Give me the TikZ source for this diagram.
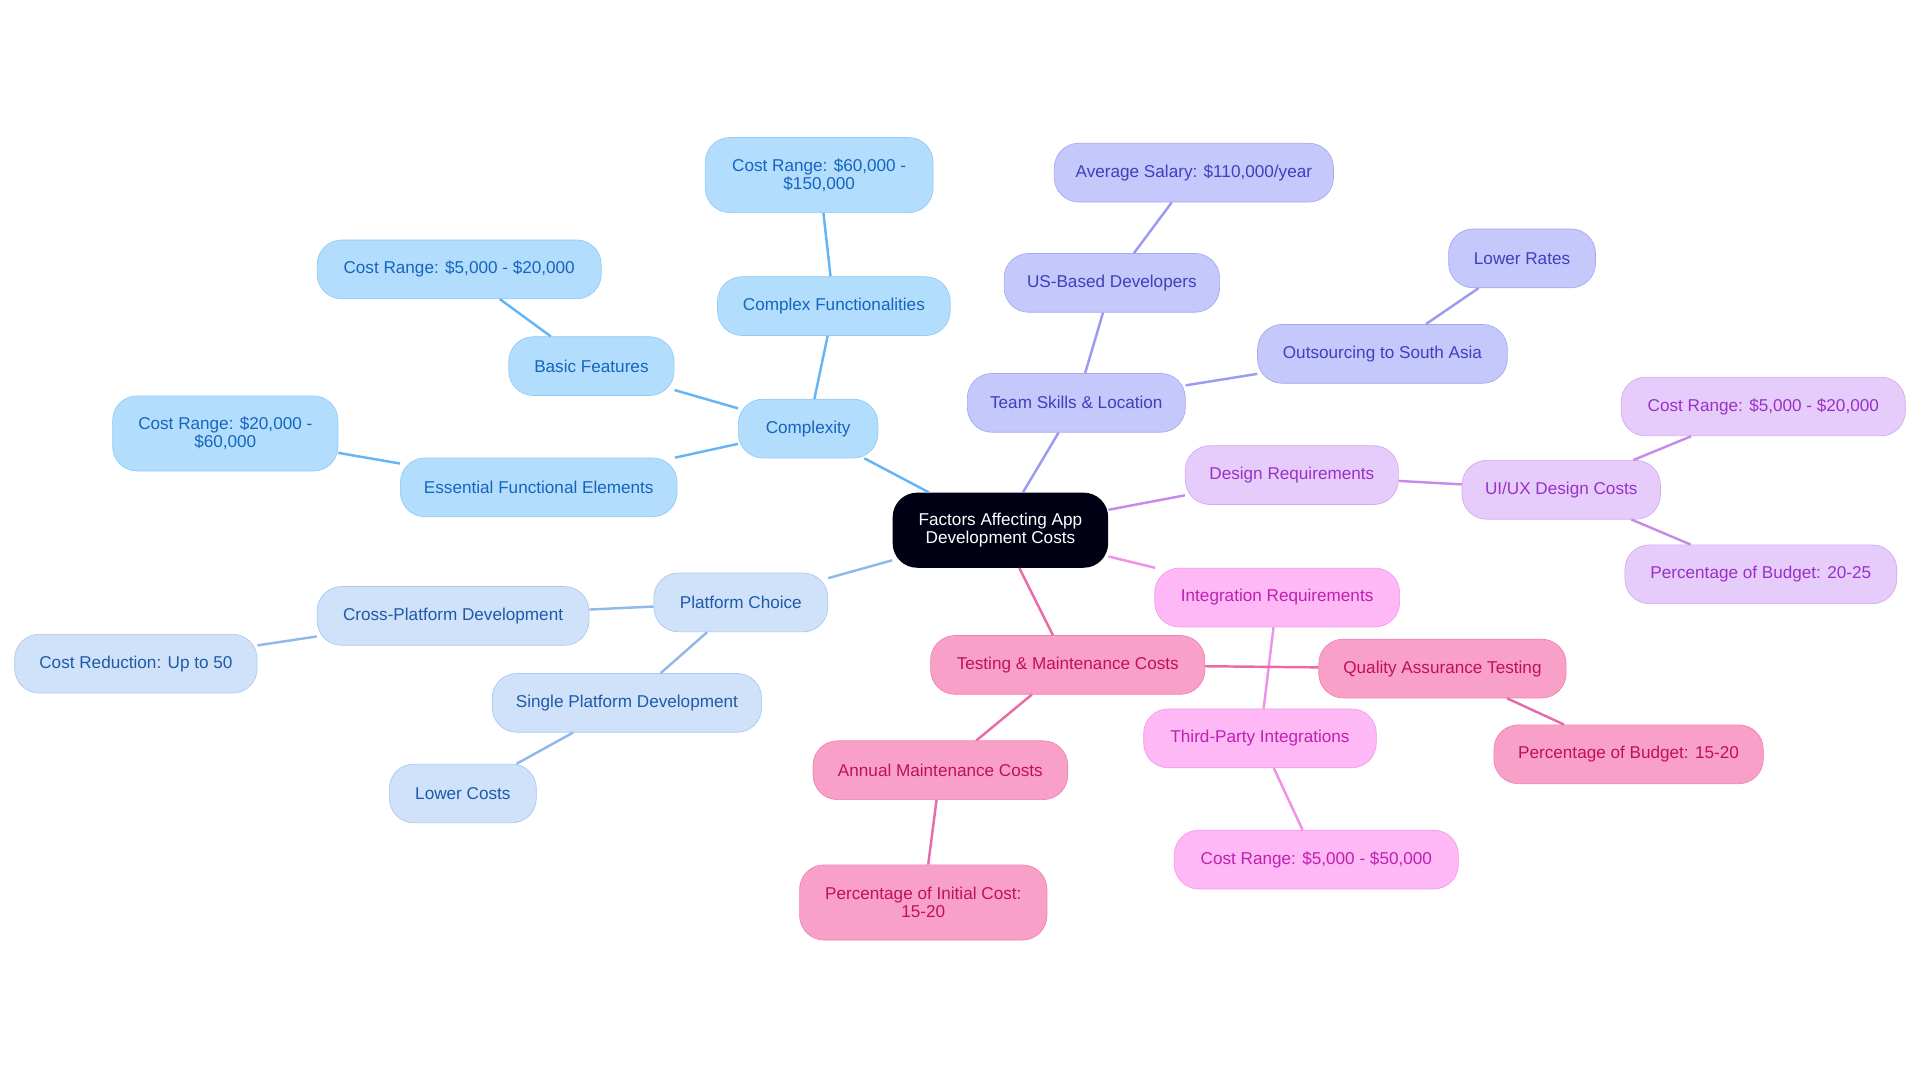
\documentclass[tikz,border=0pt]{standalone}
\usepackage{fontspec}
\setmainfont{Liberation Sans}
\begin{document}
\begin{tikzpicture}[x=0.75pt,y=-0.75pt]
\definecolor{bF}{HTML}{B3DDFC}\definecolor{bD}{HTML}{90CAF9}\definecolor{bT}{HTML}{1565C0}\definecolor{bL}{HTML}{64B5F6}
\definecolor{cF}{HTML}{CFE2FA}\definecolor{cD}{HTML}{A8C8F0}\definecolor{cT}{HTML}{1E5AA8}\definecolor{cL}{HTML}{90B8E8}
\definecolor{pF}{HTML}{C5C8FA}\definecolor{pD}{HTML}{A5A8F0}\definecolor{pT}{HTML}{3F3FBF}\definecolor{pL}{HTML}{9A9AF0}
\definecolor{lF}{HTML}{E6CCFA}\definecolor{lD}{HTML}{D4A8F0}\definecolor{lT}{HTML}{9B30C8}\definecolor{lL}{HTML}{C88AE8}
\definecolor{iF}{HTML}{FDB8F5}\definecolor{iD}{HTML}{F59AEC}\definecolor{iT}{HTML}{C020B0}\definecolor{iL}{HTML}{F090E8}
\definecolor{tF}{HTML}{F9A0C8}\definecolor{tD}{HTML}{F080B0}\definecolor{tT}{HTML}{C0105A}\definecolor{tL}{HTML}{E86AA8}
\useasboundingbox (0,0) rectangle (1568,884);
\tikzset{
 nd/.style={rounded corners=15pt,minimum height=36pt,align=center,font=\fontsize{10.5}{11}\selectfont,inner sep=2pt},
 big/.style={minimum height=46pt},
 wd/.style={minimum width=#1*0.75pt},
 bb/.style={nd,fill=bF,draw=bD,text=bT},
 cb/.style={nd,fill=cF,draw=cD,text=cT},
 pb/.style={nd,fill=pF,draw=pD,text=pT},
 lb/.style={nd,fill=lF,draw=lD,text=lT},
 ib/.style={nd,fill=iF,draw=iD,text=iT},
 tb/.style={nd,fill=tF,draw=tD,text=tT},
 ln/.style={line width=1.5pt}}
\node[nd,big,fill=black!92!blue,text=white,wd=176] (r) at (817,433) {Factors Affecting App\\Development Costs};
\node[bb,wd=114] (cx) at (660,350) {Complexity};
\node[bb,wd=190] (cf) at (681,250) {Complex Functionalities};
\node[bb,big,wd=186] (c1) at (669,143) {Cost Range: \$60,000 -\\\$150,000};
\node[bb,wd=135] (bf) at (483,299) {Basic Features};
\node[bb,wd=232] (c2) at (375,220) {Cost Range: \$5,000 - \$20,000};
\node[bb,wd=226] (ef) at (440,398) {Essential Functional Elements};
\node[bb,big,wd=184] (c3) at (184,354) {Cost Range: \$20,000 -\\\$60,000};
\node[cb,wd=142] (pc) at (605,492) {Platform Choice};
\node[cb,wd=222] (cp) at (370,503) {Cross-Platform Development};
\node[cb,wd=198] (cr) at (111,542) {Cost Reduction: Up to 50};
\node[cb,wd=220] (sp) at (512,574) {Single Platform Development};
\node[cb,wd=120] (lc) at (378,648) {Lower Costs};
\node[pb,wd=178] (ts) at (879,329) {Team Skills \& Location};
\node[pb,wd=176] (us) at (908,231) {US-Based Developers};
\node[pb,wd=228] (as) at (975,141) {Average Salary: \$110,000/year};
\node[pb,wd=204] (os) at (1129,289) {Outsourcing to South Asia};
\node[pb,wd=120] (lr) at (1243,211) {Lower Rates};
\node[lb,wd=174] (dr) at (1055,388) {Design Requirements};
\node[lb,wd=162] (ux) at (1275,400) {UI/UX Design Costs};
\node[lb,wd=232] (c4) at (1440,332) {Cost Range: \$5,000 - \$20,000};
\node[lb,wd=222] (p1) at (1438,469) {Percentage of Budget: 20-25};
\node[ib,wd=200] (ir) at (1043,488) {Integration Requirements};
\node[ib,wd=190] (tp) at (1029,603) {Third-Party Integrations};
\node[ib,wd=232] (c5) at (1075,702) {Cost Range: \$5,000 - \$50,000};
\node[tb,wd=224] (tm) at (872,543) {Testing \& Maintenance Costs};
\node[tb,wd=202] (qa) at (1178,546) {Quality Assurance Testing};
\node[tb,wd=220] (p2) at (1330,616) {Percentage of Budget: 15-20};
\node[tb,wd=208] (am) at (768,629) {Annual Maintenance Costs};
\node[tb,big,wd=202] (p3) at (754,737) {Percentage of Initial Cost:\\15-20};
\begin{scope}[ln]
\draw[bL] (r)--(cx) (cx)--(cf) (cf)--(c1) (cx)--(bf) (bf)--(c2) (cx)--(ef) (ef)--(c3);
\draw[cL] (r)--(pc) (pc)--(cp) (cp)--(cr) (pc)--(sp) (sp)--(lc);
\draw[pL] (r)--(ts) (ts)--(us) (us)--(as) (ts)--(os) (os)--(lr);
\draw[lL] (r)--(dr) (dr)--(ux) (ux)--(c4) (ux)--(p1);
\draw[iL] (r)--(ir) (ir)--(tp) (tp)--(c5);
\draw[tL] (r)--(tm) (tm)--(qa) (qa)--(p2) (tm)--(am) (am)--(p3);
\end{scope}
\end{tikzpicture}
\end{document}
